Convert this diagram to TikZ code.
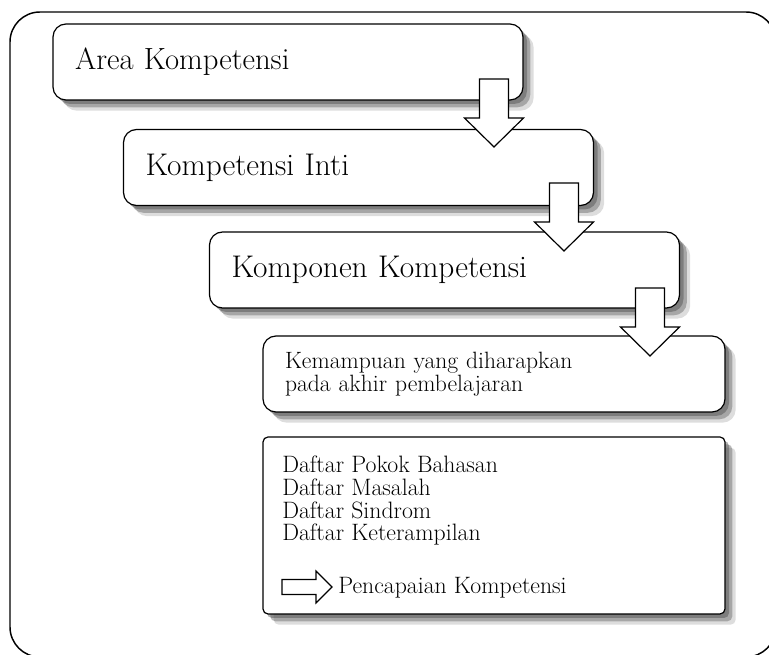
\documentclass[tikz,border=0pt]{standalone}
\usepackage{fontspec}
\colorlet{FrameLine}{black}
\colorlet{BoxShadow}{black!75}
\usetikzlibrary{shadows}

\tikzset{
  BoxShadowed/.style={
    draw=FrameLine, line width=0.9pt, fill=white,
    drop shadow={shadow xshift=3pt, shadow yshift=-3pt, fill=BoxShadow, opacity=0.4},
    drop shadow={shadow xshift=5.5pt, shadow yshift=-5.5pt, fill=BoxShadow, opacity=0.35},
    drop shadow={shadow xshift=8pt, shadow yshift=-8pt, fill=BoxShadow, opacity=0.18}},
  KotakBesar/.style={BoxShadowed, rounded corners=9.75pt, inner xsep=16.5pt,
    minimum height=57pt, align=left, text width=319.5pt},
  KotakKecil/.style={BoxShadowed, rounded corners=9.75pt, inner xsep=16.5pt,
    minimum height=57pt, align=left, text width=313.5pt},
  BlockArrow/.style={draw=FrameLine, line width=0.9pt, fill=white, line join=miter}
}

\begin{document}
\begin{tikzpicture}[x=0.75pt, y=-0.75pt]

\clip (0,0) rectangle (769,655);

% Bingkai luar, sebagian terpotong di kanan dan bawah.
\draw[line width=1.1pt, rounded corners=22.5pt] (10,12) rectangle (776,657);

% Kotak-kotak bertingkat
\node[KotakBesar, font=\fontsize{23}{26}\selectfont] (area) at (288,62) {Area Kompetensi};
\node[KotakBesar, font=\fontsize{23.5}{26}\selectfont] (inti) at (358.5,167.5) {Kompetensi Inti};
\node[KotakBesar, font=\fontsize{23.5}{26}\selectfont] (komponen) at (444.5,270) {Komponen Kompetensi};
\node[KotakKecil, font=\fontsize{17.7}{17.5}\selectfont] (kemampuan) at (494,374)
  {Kemampuan yang diharapkan\\pada akhir pembelajaran};
\node[BoxShadowed, rounded corners=3.75pt, minimum width=346.5pt, minimum height=132.75pt]
  (daftar) at (494,525.5) {};

% Isi kotak terakhir
\node[anchor=base west, inner sep=0pt, align=left, font=\fontsize{17.8}{17}\selectfont]
  (pokok) at (282,541)
  {Daftar Pokok Bahasan\\Daftar Masalah\\Daftar Sindrom\\Daftar Keterampilan};
\node[anchor=base west, inner sep=0pt, font=\fontsize{17.8}{17}\selectfont]
  (capai) at (338,594) {Pencapaian Kompetensi};

% Panah blok ke bawah, digambar setelah kotak supaya tidak tertutup.
\foreach \tx/\ty in {494/147, 564/251, 650/356}
  \draw[BlockArrow, shift={(\tx,\ty)}]
    (-14.5,-68) -- (14.5,-68) -- (14.5,-29) -- (29.5,-29) -- (0,0)
    -- (-29.5,-29) -- (-14.5,-29) -- cycle;

% Panah kecil ke kanan
\draw[BlockArrow, shift={(332,587)}]
  (-50,-7.5) -- (-16,-7.5) -- (-16,-16) -- (0,0) -- (-16,16) -- (-16,7.5)
  -- (-50,7.5) -- cycle;

\end{tikzpicture}
\end{document}
